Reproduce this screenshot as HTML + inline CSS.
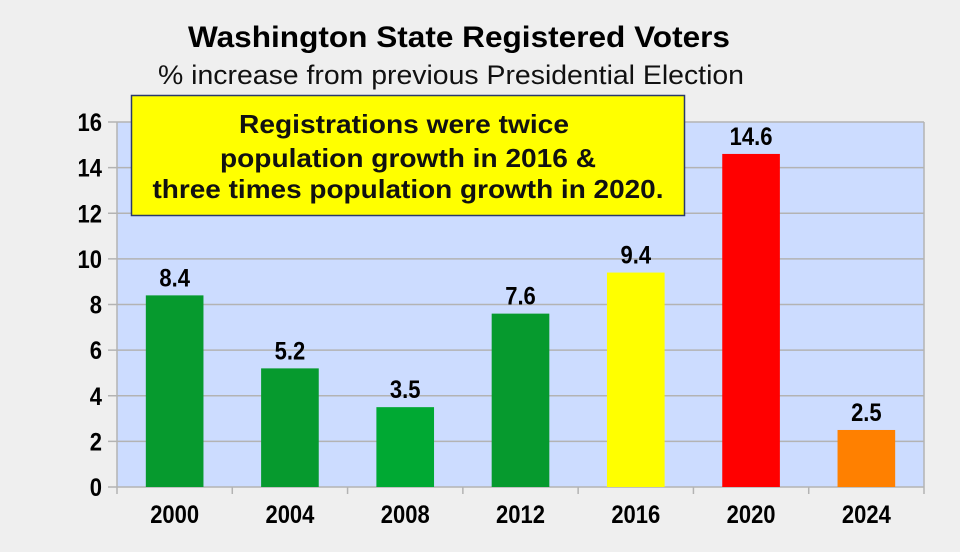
<!DOCTYPE html>
<html><head><meta charset="utf-8"><style>
html,body{margin:0;padding:0;background:#efefef;}
svg{display:block;font-family:"Liberation Sans",Arial,sans-serif;}
</style></head><body>
<svg id="chart" width="960" height="552" viewBox="0 0 960 552">
<rect x="0" y="0" width="960" height="552" fill="#efefef"/>
<text x="459" y="47" text-anchor="middle" font-size="30" font-weight="bold" fill="#000" textLength="542" lengthAdjust="spacingAndGlyphs">Washington State Registered Voters</text>
<text x="451" y="84" text-anchor="middle" font-size="27" fill="#111" textLength="586" lengthAdjust="spacingAndGlyphs">% increase from previous Presidential Election</text>
<g id="plot"></g>
<g>
<rect x="131.5" y="95.5" width="553" height="120" fill="#ffff00" stroke="#2a3a6a" stroke-width="1.5"/>
<text x="404" y="133" text-anchor="middle" font-size="26" font-weight="bold" fill="#111" textLength="330" lengthAdjust="spacingAndGlyphs">Registrations were twice</text>
<text x="408" y="167" text-anchor="middle" font-size="26" font-weight="bold" fill="#111" textLength="376" lengthAdjust="spacingAndGlyphs">population growth in 2016 &amp;</text>
<text x="408" y="198" text-anchor="middle" font-size="26" font-weight="bold" fill="#111" textLength="511" lengthAdjust="spacingAndGlyphs">three times population growth in 2020.</text>
</g>
</svg>
<script>
const categories = ["2000","2004","2008","2012","2016","2020","2024"];
const values = [8.4, 5.2, 3.5, 7.6, 9.4, 14.6, 2.5];
const valueLabels = ["8.4","5.2","3.5","7.6","9.4","14.6","2.5"];
const barColors = ["#069a2e","#069a2e","#00a933","#069a2e","#ffff00","#ff0000","#ff8000"];
const yTicks = [0,2,4,6,8,10,12,14,16];

const NS = "http://www.w3.org/2000/svg";
const L = 117, R = 924, T = 122, B = 487, YMAX = 16;
const y = v => B - v / YMAX * (B - T);
const band = (R - L) / categories.length;
const x = i => L + i * band;
const g = document.getElementById("plot");
function mk(tag, attrs, parent) {
  const e = document.createElementNS(NS, tag);
  for (const k in attrs) e.setAttribute(k, attrs[k]);
  (parent || g).appendChild(e);
  return e;
}
function label(tx, ty, anchor, str) {
  const t = mk("text", {x: 0, y: 0, transform: "translate(" + tx + "," + ty + ") scale(0.88,1)", "text-anchor": anchor, "font-size": 25, "font-weight": "bold", fill: "#000"});
  t.textContent = str;
  return t;
}
const bg = mk("rect", {x: L, y: T, width: R - L, height: B - T, fill: "#ccdcff"});


yTicks.forEach(t => {
  const ln = mk("line", {x1: 108, x2: R, y1: y(t), y2: y(t), stroke: "#b3b3b3", "stroke-width": 1.5});
  
  
  const tx = label(102, y(t) + 9, "end", String(t));
  
  
});
const ax = mk("line", {x1: L, x2: L, y1: T, y2: B + 7, stroke: "#b3b3b3", "stroke-width": 1.5});


const ax2 = mk("line", {x1: R, x2: R, y1: T, y2: B + 7, stroke: "#b3b3b3", "stroke-width": 1.5});


for (let i = 1; i < categories.length; i++) {
  const tk = mk("line", {x1: x(i), x2: x(i), y1: B, y2: B + 7, stroke: "#b3b3b3", "stroke-width": 1.5});
  
  
}
categories.forEach((c, i) => {
  const bw = band * 0.5;
  const cx = x(i) + band / 2;
  const r = mk("rect", {x: cx - bw / 2, y: y(values[i]), width: bw, height: B - y(values[i]), fill: barColors[i]});
  
  
  const vl = label(cx, y(values[i]) - 9, "middle", valueLabels[i]);
  
  
  const xl = label(cx, 523, "middle", c);
  
  
});
</script>
</body></html>
